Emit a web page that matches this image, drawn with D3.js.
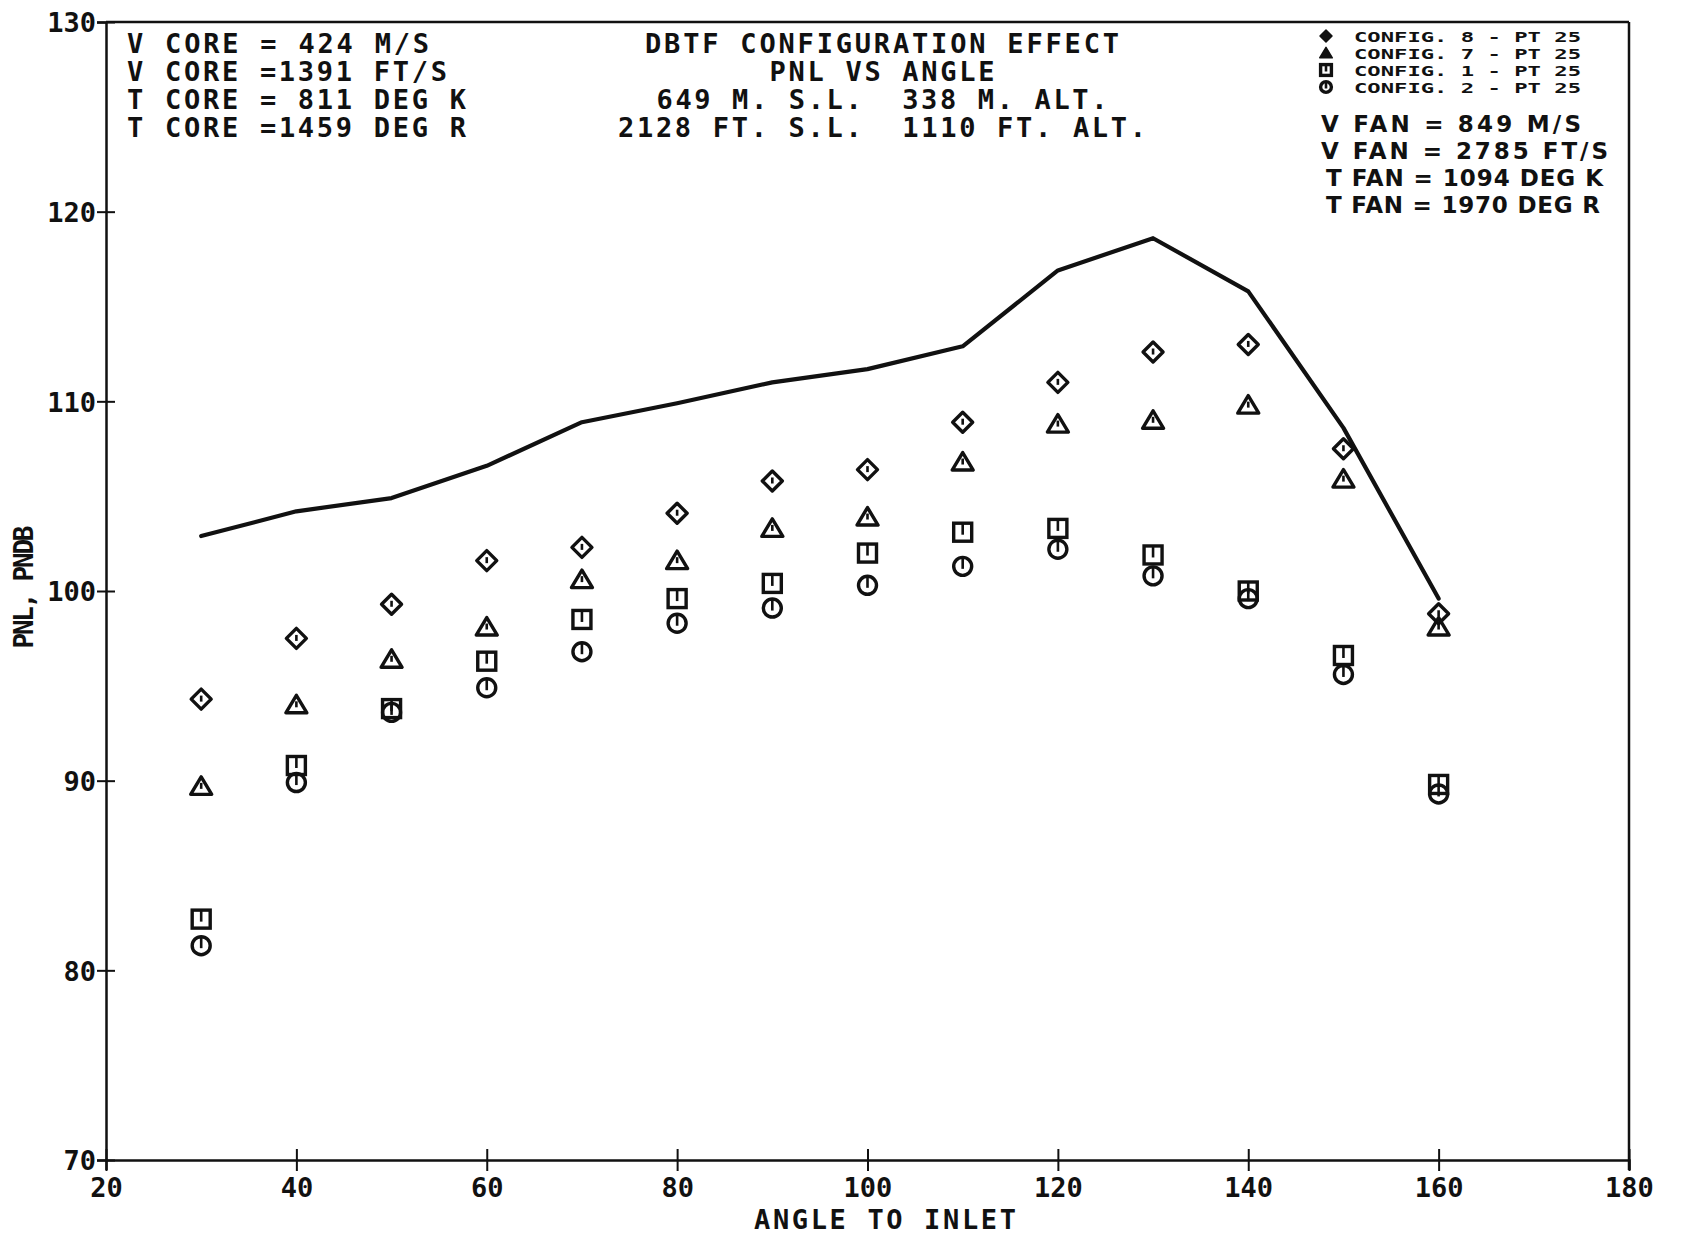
<!DOCTYPE html>
<html>
<head>
<meta charset="utf-8">
<script src="https://cdn.jsdelivr.net/npm/d3@7"></script>
<style>
  html, body { margin: 0; padding: 0; background: #fff; }
  svg { display: block; }
  .plot-text { font-family: "DejaVu Sans Mono", "Liberation Mono", monospace; font-weight: bold; fill: #111; }
  .hand-text { font-family: "DejaVu Sans", "Liberation Sans", sans-serif; font-weight: bold; fill: #111; }
</style>
</head>
<body>
<svg id="chart" width="1681" height="1244"></svg>
<script>
// Angle to inlet (degrees) at which each point was measured
const angles = [30, 40, 50, 60, 70, 80, 90, 100, 110, 120, 130, 140, 150, 160];

// Solid curve: reference PNL level
const pnlCurve = [102.9, 104.2, 104.9, 106.6, 108.9, 109.9, 111.0, 111.7, 112.9, 116.9, 118.6, 115.8, 108.6, 99.6];

// Configuration measurements, PNL in PNdB
const config8 = [94.3, 97.5, 99.3, 101.6, 102.3, 104.1, 105.8, 106.4, 108.9, 111.0, 112.6, 113.0, 107.5, 98.8];
const config7 = [89.7, 94.0, 96.4, 98.1, 100.6, 101.6, 103.3, 103.9, 106.8, 108.8, 109.0, 109.8, 105.9, 98.1];
const config1 = [82.7, 90.8, 93.8, 96.3, 98.5, 99.6, 100.4, 102.0, 103.1, 103.3, 101.9, 100.0, 96.6, 89.8];
const config2 = [81.3, 89.9, 93.6, 94.9, 96.8, 98.3, 99.1, 100.3, 101.3, 102.2, 100.8, 99.6, 95.6, 89.3];

// Axis ticks
const xTicks = [20, 40, 60, 80, 100, 120, 140, 160, 180];
const yTicks = [70, 80, 90, 100, 110, 120, 130];

// Header text blocks
const coreLines = ["V CORE = 424 M/S", "V CORE =1391 FT/S", "T CORE = 811 DEG K", "T CORE =1459 DEG R"];
const titleLines = ["DBTF CONFIGURATION EFFECT", "PNL VS ANGLE", "649 M. S.L.  338 M. ALT.", "2128 FT. S.L.  1110 FT. ALT."];
const legendLabels = ["CONFIG. 8 - PT 25", "CONFIG. 7 - PT 25", "CONFIG. 1 - PT 25", "CONFIG. 2 - PT 25"];
const fanLines = ["V FAN = 849 M/S", "V FAN = 2785 FT/S", "T FAN = 1094 DEG K", "T FAN = 1970 DEG R"];

const svg = d3.select("#chart");
const ink = "#111";

const x = d3.scaleLinear().domain([20, 180]).range([106, 1629]);
const y = d3.scaleLinear().domain([70, 130]).range([1160, 22]);

// ---- frame: top and right borders
svg.append("line").attr("x1", x(20)).attr("x2", x(180)).attr("y1", y(130)).attr("y2", y(130))
  .attr("stroke", ink).attr("stroke-width", 2.5);
svg.append("line").attr("x1", x(180)).attr("x2", x(180)).attr("y1", y(130)).attr("y2", y(70) + 10)
  .attr("stroke", ink).attr("stroke-width", 2.5);

// ---- bottom axis, ticks cross the axis line
const gx = svg.append("g").attr("transform", `translate(0,${y(70)})`)
  .call(d3.axisBottom(x).tickValues(xTicks).tickSize(10).tickPadding(16).tickFormat(d3.format("d")));
gx.select(".domain").attr("stroke", ink).attr("stroke-width", 2.5);
gx.selectAll(".tick line").attr("y1", -11).attr("y2", 11).attr("stroke", ink).attr("stroke-width", 2);
gx.selectAll(".tick text").attr("class", "plot-text").attr("font-size", 27)
  .attr("y", 18).attr("dy", "0.72em").attr("fill", ink);

// ---- left axis
const gy = svg.append("g").attr("transform", `translate(${x(20)},0)`)
  .call(d3.axisLeft(y).tickValues(yTicks).tickSize(9).tickPadding(4).tickFormat(d3.format("d")));
gy.select(".domain").attr("stroke", ink).attr("stroke-width", 2.5);
gy.selectAll(".tick line").attr("x1", -9).attr("x2", 9).attr("stroke", ink).attr("stroke-width", 2);
gy.selectAll(".tick text").attr("class", "plot-text").attr("font-size", 27)
  .attr("x", -10).attr("dy", "0.36em").attr("fill", ink);
svg.selectAll(".tick text").attr("font-family", null);

// ---- axis titles
svg.append("text").attr("class", "plot-text").attr("font-size", 27)
  .attr("x", 885).attr("y", 1229).attr("text-anchor", "middle")
  .attr("textLength", 262).attr("lengthAdjust", "spacing").text("ANGLE TO INLET");
svg.append("text").attr("class", "plot-text").attr("font-size", 26)
  .attr("transform", "translate(33,587) rotate(-90)").attr("text-anchor", "middle")
  .attr("textLength", 123).attr("lengthAdjust", "spacing").text("PNL, PNDB");

// ---- header: core conditions (left)
const coreWidths = [302, 320, 339, 339];
coreLines.forEach((t, i) => {
  svg.append("text").attr("class", "plot-text").attr("font-size", 27)
    .attr("x", 127).attr("y", 53 + i * 28)
    .attr("textLength", coreWidths[i]).attr("lengthAdjust", "spacing")
    .style("white-space", "pre").text(t);
});

// ---- header: title (centre)
const titleWidths = [474, 225, 451, 528];
titleLines.forEach((t, i) => {
  svg.append("text").attr("class", "plot-text").attr("font-size", 27)
    .attr("x", 882).attr("y", 53 + i * 28).attr("text-anchor", "middle")
    .attr("textLength", titleWidths[i]).attr("lengthAdjust", "spacing")
    .style("white-space", "pre").text(t);
});

// ---- marker shapes (local coordinates around a point)
function drawMarker(g, kind, s, filled) {
  const sw = filled ? 1.5 : 3.4;
  const fill = filled ? ink : "none";
  if (kind === "diamond") {
    g.append("path").attr("d", `M0,${-s}L${s},0L0,${s}L${-s},0Z`)
      .attr("fill", fill).attr("stroke", ink).attr("stroke-width", sw).attr("stroke-linejoin", "round");
  } else if (kind === "triangle") {
    g.append("path").attr("d", `M0,${-s * 0.95}L${s * 1.05},${s * 0.8}L${-s * 1.05},${s * 0.8}Z`)
      .attr("fill", fill).attr("stroke", ink).attr("stroke-width", sw).attr("stroke-linejoin", "round");
  } else if (kind === "square") {
    g.append("rect").attr("x", -s * 0.9).attr("y", -s * 0.9).attr("width", s * 1.8).attr("height", s * 1.8)
      .attr("fill", "none").attr("stroke", ink).attr("stroke-width", sw);
  } else {
    g.append("circle").attr("r", s * 0.9)
      .attr("fill", "none").attr("stroke", ink).attr("stroke-width", sw);
  }
  if (!filled || kind === "square" || kind === "circle") {
    // small vertical stroke marking the plotted point
    const top = (kind === "square" || kind === "circle") ? -s * 0.9 : -s * 0.35;
    g.append("line").attr("x1", 0).attr("x2", 0).attr("y1", top).attr("y2", s * 0.25)
      .attr("stroke", ink).attr("stroke-width", 2.6);
  }
}

// ---- reference curve
const line = d3.line().x((d, i) => x(angles[i])).y(d => y(d));
svg.append("path").datum(pnlCurve).attr("d", line)
  .attr("fill", "none").attr("stroke", ink).attr("stroke-width", 4.2)
  .attr("stroke-linejoin", "round").attr("stroke-linecap", "round");

// ---- data points
const series = [
  { kind: "diamond", values: config8 },
  { kind: "triangle", values: config7 },
  { kind: "square", values: config1 },
  { kind: "circle", values: config2 }
];
series.forEach(sr => {
  svg.append("g").selectAll("g").data(sr.values).join("g")
    .attr("transform", (d, i) => `translate(${x(angles[i])},${y(d)})`)
    .each(function () { drawMarker(d3.select(this), sr.kind, 10, false); });
});

// ---- legend (top right)
legendLabels.forEach((t, i) => {
  const ly = 36 + i * 17;
  const g = svg.append("g").attr("transform", `translate(1326,${ly})`);
  drawMarker(g, series[i].kind, 6, i < 2);
  svg.append("text").attr("class", "plot-text").attr("font-size", 14.5)
    .attr("x", 1354).attr("y", ly + 6)
    .attr("textLength", 227).attr("lengthAdjust", "spacingAndGlyphs").text(t);
});

// ---- fan conditions (handwritten block)
const fanWidths = [260, 287, 277, 274];
const fanX = [1321, 1321, 1326, 1326];
fanLines.forEach((t, i) => {
  svg.append("text").attr("class", "hand-text").attr("font-size", 23)
    .attr("x", fanX[i]).attr("y", 132 + i * 27)
    .attr("textLength", fanWidths[i]).attr("lengthAdjust", "spacing").text(t);
});
</script>
</body>
</html>
